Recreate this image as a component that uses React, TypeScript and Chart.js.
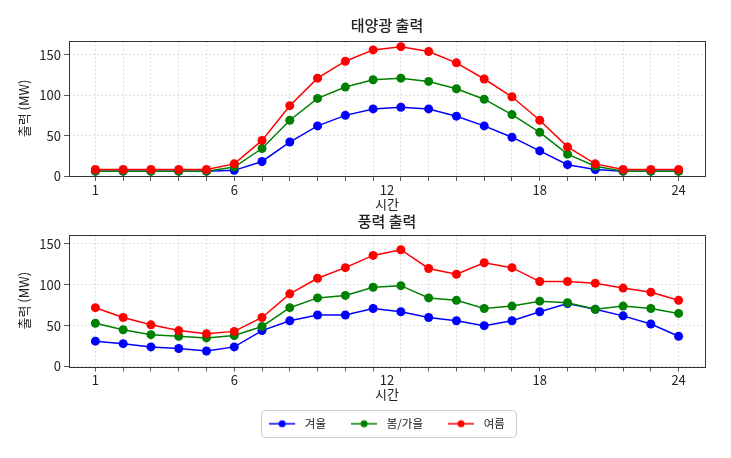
import { useEffect, useRef } from 'react'
import { Chart, registerables } from 'chart.js'

Chart.register(...registerables)

// hourly samples (index along the x axis) and the hour labels shown under them
const hourIndex = [0, 1, 2, 3, 4, 5, 6, 7, 8, 9, 10, 11, 12, 13, 14, 15, 16, 17, 18, 19, 20, 21]
const hourTickPos = [0, 5, 10.5, 16, 21]
const hourTickLabels = ['1', '6', '12', '18', '24']
const yTicks = [0, 50, 100, 150]

const seasonNames = ['겨울', '봄/가을', '여름']
const seasonColors = ['#0000ff', '#008000', '#ff0000']

// 태양광 출력 (MW)
const solarWinter = [6, 6, 6, 6, 6, 7, 18, 42, 62, 75, 83, 85, 83, 74, 62, 48, 31, 14, 8, 6, 6, 6]
const solarSpring = [6, 6, 6, 6, 6, 11, 34, 69, 96, 110, 119, 121, 117, 108, 95, 76, 54, 27, 12, 6, 6, 6]
const solarSummer = [8, 8, 8, 8, 8, 15, 44, 87, 121, 142, 156, 160, 154, 140, 120, 98, 69, 36, 15, 8, 8, 8]

// 풍력 출력 (MW)
const windWinter = [31, 28, 24, 22, 19, 24, 44, 56, 63, 63, 71, 67, 60, 56, 50, 56, 67, 77, 70, 62, 52, 37]
const windSpring = [53, 45, 39, 37, 35, 38, 49, 72, 84, 87, 97, 99, 84, 81, 71, 74, 80, 78, 70, 74, 71, 65]
const windSummer = [72, 60, 51, 44, 40, 43, 60, 89, 108, 121, 136, 143, 120, 113, 127, 121, 104, 104, 102, 96, 91, 81]

const textColor = '#222222'
const gridColor = 'rgba(185,185,185,0.6)'

Chart.defaults.font.family = '"Noto Sans CJK KR", "Noto Sans", sans-serif'
Chart.defaults.color = textColor

const xTickValues = Array.from(new Set([...hourIndex, ...hourTickPos])).sort((a, b) => a - b)

function makeLegendIcon(color: string) {
  const c = document.createElement('canvas')
  c.width = 30
  c.height = 10
  const ctx = c.getContext('2d')!
  ctx.strokeStyle = color
  ctx.lineWidth = 1.5
  ctx.beginPath()
  ctx.moveTo(0, 5)
  ctx.lineTo(26, 5)
  ctx.stroke()
  ctx.fillStyle = color
  ctx.beginPath()
  ctx.arc(13, 5, 3.5, 0, Math.PI * 2)
  ctx.fill()
  return c
}

const framePlugin = {
  id: 'frame',
  afterDatasetsDraw(chart: any) {
    const { ctx, chartArea } = chart
    ctx.save()
    ctx.strokeStyle = '#333333'
    ctx.lineWidth = 1
    ctx.strokeRect(
      Math.round(chartArea.left) + 0.5,
      Math.round(chartArea.top) + 0.5,
      Math.round(chartArea.right - chartArea.left),
      Math.round(chartArea.bottom - chartArea.top)
    )
    ctx.restore()
  },
}

const legendBoxPlugin = {
  id: 'legendBox',
  afterDraw(chart: any) {
    const legend = chart.legend
    if (!legend || !legend.options.display || !legend.legendHitBoxes?.length) return
    const boxes = legend.legendHitBoxes
    const first = boxes[0]
    const last = boxes[boxes.length - 1]
    const left = first.left - 8
    const right = last.left + last.width + 11
    const cy = first.top + first.height / 2
    const { ctx } = chart
    ctx.save()
    ctx.strokeStyle = '#cccccc'
    ctx.lineWidth = 1
    ctx.beginPath()
    ctx.roundRect(Math.round(left) + 0.5, Math.round(cy - 13.5) + 0.5, Math.round(right - left), 27, 4)
    ctx.stroke()
    ctx.restore()
  },
}

interface PanelOptions {
  title: string
  winter: number[]
  spring: number[]
  summer: number[]
  yMax: number
  titlePad: { top: number; bottom: number }
  xHeight: number
  xTitlePad: number
  legend: boolean
  bottomPad: number
}

function makeConfig(p: PanelOptions): any {
  const series = [p.winter, p.spring, p.summer]
  const icons = seasonColors.map(makeLegendIcon)
  return {
    type: 'line',
    data: {
      datasets: series.map((values, i) => ({
        label: seasonNames[i],
        data: hourIndex.map((x, j) => ({ x, y: values[j] })),
        borderColor: seasonColors[i],
        backgroundColor: seasonColors[i],
        pointBackgroundColor: seasonColors[i],
        pointBorderColor: seasonColors[i],
        borderWidth: 1.5,
        pointRadius: 4.5,
        pointBorderWidth: 0,
        tension: 0,
        order: 2 - i,
      })),
    },
    options: {
      animation: false,
      responsive: true,
      maintainAspectRatio: false,
      layout: { padding: { left: 0, right: 26, top: 0, bottom: p.bottomPad } },
      plugins: {
        tooltip: { enabled: false },
        title: {
          display: true,
          fullSize: false,
          text: p.title,
          color: textColor,
          font: { size: 15, weight: 500 },
          padding: p.titlePad,
        },
        legend: {
          display: p.legend,
          position: 'bottom',
          fullSize: false,
          labels: {
            usePointStyle: true,
            pointStyleWidth: 30,
            padding: 25,
            color: textColor,
            font: { size: 11.5 },
            generateLabels: () =>
              seasonNames.map((name, i) => ({
                text: name,
                datasetIndex: i,
                pointStyle: icons[i],
                fillStyle: seasonColors[i],
                strokeStyle: seasonColors[i],
                lineWidth: 0,
                hidden: false,
                fontColor: textColor,
              })),
          },
        },
      },
      scales: {
        x: {
          type: 'linear',
          min: -0.95,
          max: 21.95,
          afterBuildTicks: (scale: any) => {
            scale.ticks = xTickValues.map((value) => ({ value }))
          },
          afterFit: (scale: any) => {
            scale.height = p.xHeight
          },
          ticks: {
            autoSkip: false,
            maxRotation: 0,
            padding: 1,
            font: { size: 13 },
            color: textColor,
            callback: (v: number) => {
              const k = hourTickPos.indexOf(v)
              return k >= 0 ? hourTickLabels[k] : ''
            },
          },
          grid: {
            color: (ctx: any) => (hourIndex.includes(ctx.tick?.value) ? gridColor : 'rgba(0,0,0,0)'),
            tickColor: (ctx: any) => (hourIndex.includes(ctx.tick?.value) ? '#333333' : 'rgba(0,0,0,0)'),
            tickLength: 5,
            lineWidth: 0.8,
          },
          border: { display: false, dash: [2, 2] },
          title: {
            display: true,
            text: '시간',
            color: textColor,
            font: { size: 13 },
            padding: { top: 0, bottom: p.xTitlePad },
          },
        },
        y: {
          min: 0,
          max: p.yMax,
          afterBuildTicks: (scale: any) => {
            scale.ticks = yTicks.map((value) => ({ value }))
          },
          afterFit: (scale: any) => {
            scale.width = 69
          },
          ticks: { padding: 3, font: { size: 13 }, color: textColor },
          grid: {
            color: gridColor,
            tickColor: '#333333',
            tickLength: 5,
            lineWidth: 0.8,
          },
          border: { display: false, dash: [2, 2] },
          title: {
            display: true,
            text: '출력 (MW)',
            color: textColor,
            font: { size: 13 },
            padding: { top: 16, bottom: 0 },
          },
        },
      },
    },
    plugins: [framePlugin, legendBoxPlugin],
  }
}

export default function App() {
  const solarRef = useRef<HTMLCanvasElement>(null)
  const windRef = useRef<HTMLCanvasElement>(null)

  useEffect(() => {
    const charts: Chart[] = []
    if (solarRef.current) {
      charts.push(
        new Chart(
          solarRef.current,
          makeConfig({
            title: '태양광 출력',
            winter: solarWinter,
            spring: solarSpring,
            summer: solarSummer,
            yMax: 167,
            titlePad: { top: 16, bottom: 7 },
            xHeight: 38,
            xTitlePad: 2.2,
            legend: false,
            bottomPad: 0,
          })
        )
      )
    }
    if (windRef.current) {
      charts.push(
        new Chart(
          windRef.current,
          makeConfig({
            title: '풍력 출력',
            winter: windWinter,
            spring: windSpring,
            summer: windSummer,
            yMax: 161,
            titlePad: { top: 12, bottom: 5 },
            xHeight: 26.5,
            xTitlePad: -9.3,
            legend: true,
            bottomPad: 18.5,
          })
        )
      )
    }
    return () => charts.forEach((c) => c.destroy())
  }, [])

  return (
    <div style={{ position: 'absolute', left: 0, top: 0, width: 731, height: 458, background: '#ffffff' }}>
      <div style={{ position: 'absolute', left: 0, top: 0, width: 731, height: 214 }}>
        <canvas ref={solarRef}></canvas>
      </div>
      <div style={{ position: 'absolute', left: 0, top: 200, width: 731, height: 258 }}>
        <canvas ref={windRef}></canvas>
      </div>
    </div>
  )
}
